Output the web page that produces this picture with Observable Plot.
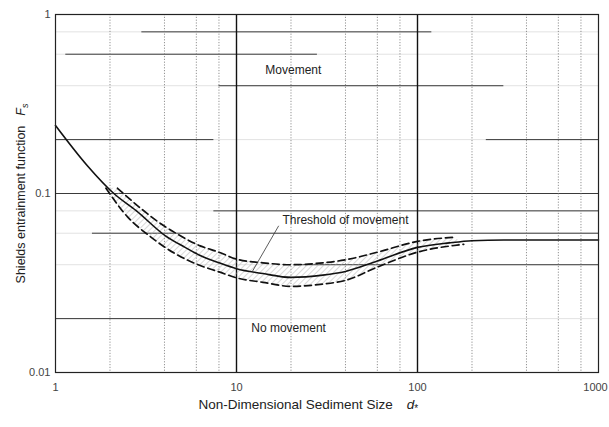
<!DOCTYPE html>
<html>
<head>
<meta charset="utf-8">
<script src="https://cdn.jsdelivr.net/npm/d3@7"></script>
<script src="https://cdn.jsdelivr.net/npm/@observablehq/plot@0.6"></script>
<style>
  html, body { margin: 0; padding: 0; background: #fff; }
  #chart { width: 609px; height: 427px; }
</style>
</head>
<body>
<div id="chart"></div>
<script>
// ---- Data ----
// Shields threshold curve (solid)
const solidD = [1, 1.5, 2.1, 2.8, 4.05, 5.2, 6.3, 8, 10, 14, 20, 30, 40, 60, 100, 150, 200, 300, 1000];
const solidF = [0.24, 0.143, 0.100, 0.080, 0.058, 0.050, 0.045, 0.041, 0.038, 0.0357, 0.034, 0.035, 0.0367, 0.042, 0.050, 0.053, 0.0545, 0.055, 0.055];
// Upper dashed bound
const upperD = [2.2, 2.9, 3.8, 4.9, 6.3, 8, 10, 14, 20, 30, 40, 60, 100, 160];
const upperF = [0.107, 0.084, 0.068, 0.058, 0.051, 0.047, 0.043, 0.041, 0.040, 0.041, 0.0426, 0.047, 0.054, 0.057];
// Lower dashed bound
const lowerD = [1.9, 2.5, 3.3, 4.6, 6.3, 8, 10, 14, 20, 30, 40, 60, 100, 180];
const lowerF = [0.107, 0.074, 0.058, 0.046, 0.0396, 0.0365, 0.0338, 0.0319, 0.0303, 0.0312, 0.0327, 0.0388, 0.047, 0.052];

// Grid values
const xGridMinor = [2, 4, 6, 8, 20, 40, 60, 80, 200, 400, 600, 800];
const xGridMajor = [10, 100];
const yGrid = [0.02, 0.04, 0.06, 0.08, 0.1, 0.2, 0.4, 0.6, 0.8];
// dark (well printed) parts of the horizontal grid lines: level, from d, to d
const segLevel = [0.8, 0.6, 0.4, 0.2, 0.2, 0.1, 0.08, 0.06, 0.04, 0.02];
const segFrom  = [3,   1.14, 8,  1,   240, 1,   7.5,  1.6,  22,   1];
const segTo    = [120, 28,  300, 7.5, 1000, 1000, 1000, 1000, 1000, 10];

// Tick labels
const xTicks = [1, 10, 100];
const xTickLabels = ["1", "10", "100"];
const xLastTick = [1000];
const xLastLabel = "1000";
const yTicks = [0.01, 0.1, 1];
const yTickLabels = ["0.01", "0.1", "1"];

// Annotations
const noteText = ["Movement", "Threshold of movement", "No movement"];
const noteD = [20.6, 40, 19.4];
const noteF = [0.487, 0.0707, 0.0176];
const leaderD = [17.1, 12.2];
const leaderF = [0.066, 0.0365];

// Titles
const xTitle = "Non-Dimensional Sediment Size";
const xSymbol = "d";
const xSub = "*";
const yTitle = "Shields entrainment function";
const ySymbol = "F";
const ySub = "s";

// ---- Build tables ----
const solid = solidD.map((d, i) => ({d, f: solidF[i]}));
const upper = upperD.map((d, i) => ({d, f: upperF[i]}));
const lower = lowerD.map((d, i) => ({d, f: lowerF[i]}));
const band = upperD.map((d, i) => ({ux: d, uy: upperF[i], lx: lowerD[i], ly: lowerF[i]}));
const segs = segLevel.map((f, i) => ({f, a: segFrom[i], b: segTo[i]}));
const notes = noteText.map((t, i) => ({t, d: noteD[i], f: noteF[i]}));
const leader = [{x1: leaderD[0], y1: leaderF[0], x2: leaderD[1], y2: leaderF[1]}];

const plot = Plot.plot({
  width: 609,
  height: 427,
  marginLeft: 55,
  marginRight: 11,
  marginTop: 14,
  marginBottom: 55,
  style: {fontFamily: "'Liberation Sans', Arial, sans-serif", background: "#fff", color: "#222"},
  x: {type: "log", domain: [1, 1000]},
  y: {type: "log", domain: [0.01, 1]},
  marks: [
    Plot.ruleY(yGrid, {stroke: "#e2e2e2", strokeWidth: 1}),
    Plot.ruleY(segs, {y: "f", x1: "a", x2: "b", stroke: "#3a3a3a", strokeWidth: 1}),
    Plot.ruleX(xGridMinor, {stroke: "#777", strokeWidth: 0.8, strokeDasharray: "1.2,1.6"}),
    Plot.ruleX(xGridMajor, {stroke: "#111", strokeWidth: 1.4}),
    Plot.area(band, {x1: "ux", y1: "uy", x2: "lx", y2: "ly", fill: "url(#hatch)", curve: "monotone-x"}),
    Plot.line(upper, {x: "d", y: "f", stroke: "#111", strokeWidth: 1.7, strokeDasharray: "7,4", curve: "monotone-x"}),
    Plot.line(lower, {x: "d", y: "f", stroke: "#111", strokeWidth: 1.7, strokeDasharray: "7,4", curve: "monotone-x"}),
    Plot.line(solid, {x: "d", y: "f", stroke: "#111", strokeWidth: 1.6, curve: "monotone-x"}),
    Plot.link(leader, {x1: "x1", y1: "y1", x2: "x2", y2: "y2", stroke: "#333", strokeWidth: 0.8}),
    Plot.text(notes, {x: "d", y: "f", text: "t", fontSize: 12, fill: "#222"}),
    Plot.frame({stroke: "#222", strokeWidth: 1.2}),
    Plot.axisX({ticks: xTicks, tickSize: 0, tickPadding: 11, fontSize: 11, fill: "#444",
      tickFormat: (d) => xTickLabels[xTicks.indexOf(d)], label: null}),
    Plot.axisX({ticks: xLastTick, tickSize: 0, tickPadding: 11, fontSize: 11, fill: "#444", dx: -3,
      tickFormat: () => xLastLabel, label: null}),
    Plot.axisY({ticks: yTicks, tickSize: 0, tickPadding: 5, fontSize: 11, fill: "#444",
      tickFormat: (d) => yTickLabels[yTicks.indexOf(d)], label: null}),
    Plot.text([xTitle], {frameAnchor: "bottom-left", dx: 143, dy: 36, textAnchor: "start",
      fontSize: 13.5, fill: "#222", className: "xtitle"}),
    Plot.text([yTitle], {frameAnchor: "left", dx: -35, rotate: -90, textAnchor: "middle",
      fontSize: 12.5, fill: "#222", className: "ytitle"})
  ]
});

// hatch pattern for the band
const svg = d3.select(plot);
const defs = svg.insert("defs", ":first-child");
const pat = defs.append("pattern").attr("id", "hatch")
  .attr("patternUnits", "userSpaceOnUse").attr("width", 4).attr("height", 4)
  .attr("patternTransform", "rotate(45)");
pat.append("line").attr("x1", 0).attr("y1", 0).attr("x2", 0).attr("y2", 4)
  .attr("stroke", "#a8a8a8").attr("stroke-width", 0.9);

// italic symbols with subscripts in titles
const xt = svg.select(".xtitle text");
xt.append("tspan").attr("dx", 14).attr("font-style", "italic").text(xSymbol);
xt.append("tspan").attr("dy", 3).attr("font-size", 10).text(xSub);
const yt = svg.select(".ytitle text");
yt.append("tspan").attr("dx", 10).attr("font-style", "italic").text(ySymbol);
yt.append("tspan").attr("dy", 3).attr("font-size", 9).attr("font-style", "italic").text(ySub);

document.getElementById("chart").appendChild(plot);
</script>
</body>
</html>
